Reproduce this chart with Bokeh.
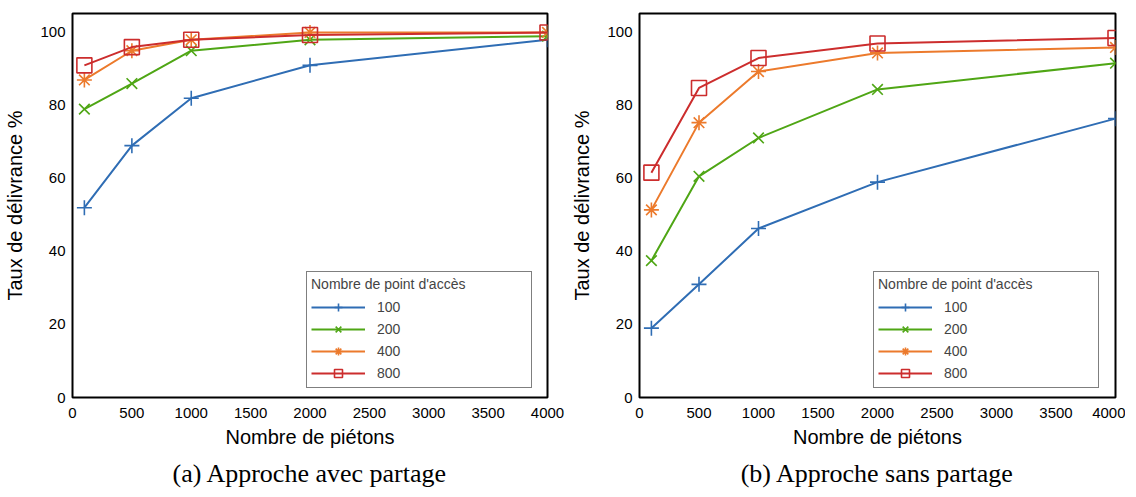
from bokeh.plotting import figure
from bokeh.layouts import row
from bokeh.models import FixedTicker, Range1d, Legend, LegendItem, Title
from bokeh.embed import file_html
from bokeh.resources import INLINE

# ---- data ----
pietons = [100, 500, 1000, 2000, 4000]
series_names = ["100", "200", "400", "800"]

avec_100 = [52, 69, 82, 91, 98]
avec_200 = [79, 86, 95, 98, 99]
avec_400 = [87, 95, 98, 100, 100]
avec_800 = [91, 96, 98, 99.3, 100]

sans_100 = [19, 31, 46.3, 59, 76.4]
sans_200 = [37.5, 60.6, 71.1, 84.4, 91.6]
sans_400 = [51.4, 75.3, 89.3, 94.4, 95.9]
sans_800 = [61.6, 84.8, 93, 97, 98.5]

x_ticks = [0, 500, 1000, 1500, 2000, 2500, 3000, 3500, 4000]
y_ticks = [0, 20, 40, 60, 80, 100]

colors = ["#2f6db4", "#4fa615", "#ec7a2c", "#cc2d2d"]
markers = ["cross", "x", "asterisk", "square"]

SANS = "Liberation Sans"
SERIF = "Liberation Serif"


def make_panel(values, caption, frame_w, border_left, border_right):
    p = figure(frame_width=frame_w, frame_height=384, output_backend="svg",
               toolbar_location=None,
               x_range=Range1d(0, 4000), y_range=Range1d(0, 105.2),
               min_border_left=border_left, min_border_right=border_right,
               min_border_top=13, min_border_bottom=0)
    p.grid.visible = False
    p.outline_line_color = "black"
    p.outline_line_width = 2
    p.background_fill_color = "white"
    p.border_fill_color = "white"

    for ax in (p.xaxis[0], p.yaxis[0]):
        ax.axis_line_color = None
        ax.major_tick_line_color = None
        ax.minor_tick_line_color = None
        ax.major_tick_out = 0
        ax.major_tick_in = 0
        ax.major_label_text_font = SANS
        ax.major_label_text_font_size = "15px"
        ax.major_label_text_color = "black"
        ax.axis_label_text_font = SANS
        ax.axis_label_text_font_style = "normal"
        ax.axis_label_text_font_size = "20px"
        ax.axis_label_text_color = "black"

    p.xaxis.ticker = FixedTicker(ticks=x_ticks)
    p.yaxis.ticker = FixedTicker(ticks=y_ticks)
    p.xaxis.axis_label = "Nombre de piétons"
    p.yaxis.axis_label = "Taux de délivrance %"
    p.xaxis.major_label_standoff = 10
    p.yaxis.major_label_standoff = 7
    p.xaxis.axis_label_standoff = 5
    p.yaxis.axis_label_standoff = 11

    items = []
    for name, vals, col, mk in zip(series_names, values, colors, markers):
        r1 = p.line(pietons, vals, line_color=col, line_width=2)
        r2 = p.scatter(pietons, vals, marker=mk, size=15, line_color=col,
                       fill_color=None, line_width=1.6)
        items.append(LegendItem(label=name, renderers=[r1, r2]))

    legend = Legend(items=items, location=(234, 9), title="Nombre de point d'accès",
                    title_text_font=SANS, title_text_font_size="14px",
                    title_text_font_style="normal", title_standoff=5,
                    label_text_font=SANS, label_text_font_size="14px",
                    glyph_width=54, glyph_height=20, label_height=20,
                    label_width=150, label_standoff=12, spacing=2, padding=4,
                    margin=0, border_line_color="black", border_line_width=1.5,
                    background_fill_color="white", background_fill_alpha=1.0)
    p.add_layout(legend, "center")

    cap = Title(text=caption, align="center", text_font=SERIF,
                text_font_size="26px", text_font_style="normal",
                text_color="black", standoff=12, offset=0)
    p.add_layout(cap, "below")
    return p


p1 = make_panel([avec_100, avec_200, avec_400, avec_800],
                "(a) Approche avec partage", 475, 72, 21)
p2 = make_panel([sans_100, sans_200, sans_400, sans_800],
                "(b) Approche sans partage", 476, 66, 10)

layout = row(p1, p2)
open("out.html", "w").write(file_html(layout, INLINE))
